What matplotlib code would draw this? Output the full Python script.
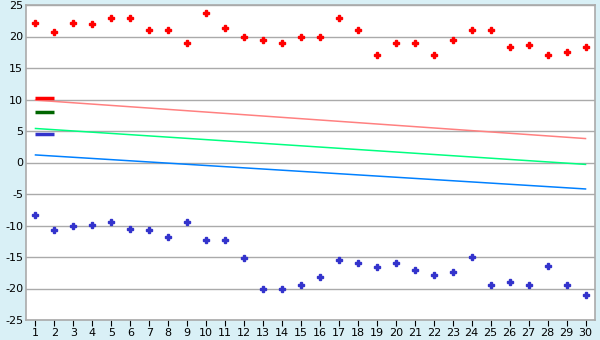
import numpy as np
import matplotlib
matplotlib.use("Agg")
import matplotlib.pyplot as plt

plt.rcParams['axes.unicode_minus'] = False

days = list(range(1, 31))

high = [22.2, 20.7, 22.2, 22.0, 23.0, 23.0, 21.1, 21.1, 18.9, 23.7,
        21.4, 20.0, 19.4, 18.9, 20.0, 20.0, 22.9, 21.1, 17.1, 18.9,
        18.9, 17.1, 19.4, 21.1, 21.1, 18.3, 18.6, 17.1, 17.5, 18.3]
low = [-8.3, -10.7, -10.1, -9.9, -9.4, -10.6, -10.7, -11.8, -9.4, -12.3,
       -12.3, -15.2, -20.0, -20.0, -19.4, -18.2, -15.5, -16.0, -16.6, -16.0,
       -17.1, -17.9, -17.4, -15.0, -19.5, -18.9, -19.4, -16.5, -19.4, -21.1]

# trend lines: value at day 1 and day 30
trend_x = [1, 30]
trend_high = [9.9, 3.8]
trend_mid = [5.4, -0.3]
trend_low = [1.2, -4.2]

# short reference bars drawn over days 1-2
ref_x = [1, 2]
ref_high = 10.25
ref_mid = 8.0
ref_low = 4.5

bg = "#d9f0f6"
fig = plt.figure(figsize=(6, 3.4), dpi=100, facecolor=bg)
ax = fig.add_axes([26 / 600, 20 / 340, 569 / 600, 315 / 340])
ax.set_facecolor("white")

ax.plot(trend_x, trend_high, color="#ff8080", lw=1.1)
ax.plot(trend_x, trend_mid, color="#00ff80", lw=1.1)
ax.plot(trend_x, trend_low, color="#0080ff", lw=1.1)

ax.plot(ref_x, [ref_high] * 2, color="#ff0000", lw=2.5, solid_capstyle="butt")
ax.plot(ref_x, [ref_mid] * 2, color="#006600", lw=2.5, solid_capstyle="butt")
ax.plot(ref_x, [ref_low] * 2, color="#3333cc", lw=2.5, solid_capstyle="butt")

ax.plot(days, high, ls="none", marker="P", ms=4.5, color="#ff0000", mec="#ff0000")
ax.plot(days, low, ls="none", marker="P", ms=4.5, color="#3333cc", mec="#3333cc")

ax.set_xlim(0.5, 30.5)
ax.set_ylim(-25, 25)
ax.set_xticks(days)
ax.set_yticks(range(-25, 30, 5))
ax.yaxis.grid(True, color="#aaaaaa", lw=1)
ax.set_axisbelow(True)
for s in ax.spines.values():
    s.set_color("#aaaaaa")
    s.set_linewidth(1.2)
ax.tick_params(axis="x", length=4, color="black", labelsize=8, pad=2)
ax.tick_params(axis="y", length=0, labelsize=8, pad=2)

fig.savefig("out.png", dpi=100, facecolor=bg)
